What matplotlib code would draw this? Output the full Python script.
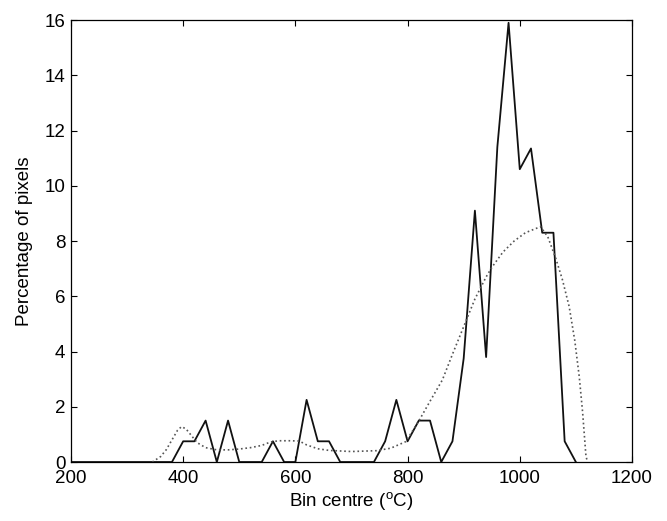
import numpy as np
import matplotlib
matplotlib.use("Agg")
import matplotlib.pyplot as plt

plt.rcParams['font.family'] = ['Liberation Sans', 'DejaVu Sans']
plt.rcParams['mathtext.fontset'] = 'custom'
plt.rcParams['mathtext.rm'] = 'Liberation Sans'

# histogram of bin centres (solid)
bin_centres = np.arange(200, 1101, 20)
hist_pct = [0, 0, 0, 0, 0, 0, 0, 0, 0, 0,
            0.75, 0.75, 1.5, 0, 1.5, 0, 0, 0, 0.75, 0,
            0, 2.25, 0.75, 0.75, 0, 0, 0, 0, 0.75, 2.25,
            0.75, 1.5, 1.5, 0, 0.75, 3.75, 9.1, 3.8, 11.4, 15.9,
            10.6, 11.35, 8.3, 8.3, 0.75, 0]

# smoothed estimate (dotted)
smooth_x = [345, 360, 370, 380, 390, 397, 405, 415, 425, 440, 460, 480, 500,
            520, 540, 555, 570, 590, 607, 620, 640, 660, 700, 744, 770,
            797, 821, 840, 862, 880, 900, 920, 940, 951, 970, 990, 1010,
            1037, 1050, 1064, 1076, 1088, 1098, 1106, 1112, 1118, 1121]
smooth_y = [0, 0.2, 0.45, 0.8, 1.15, 1.28, 1.2, 0.95, 0.7, 0.52, 0.44, 0.44, 0.47,
            0.52, 0.6, 0.72, 0.77, 0.77, 0.76, 0.62, 0.48, 0.42, 0.38, 0.41, 0.5,
            0.74, 1.52, 2.2, 2.97, 3.9, 4.9, 5.9, 6.7, 7.07, 7.6, 8.0, 8.3,
            8.52, 8.15, 7.38, 6.6, 5.63, 4.4, 3.09, 1.8, 0.2, 0]

fig = plt.figure(figsize=(6.67, 5.21), dpi=100)
ax = fig.add_axes([0.1064, 0.1132, 0.8411, 0.8484])

ax.plot(bin_centres, hist_pct, color='#111111', linewidth=1.3, linestyle='-')
ax.plot(smooth_x, smooth_y, color='#555555', linewidth=1.2, linestyle=':')

ax.set_xlim(200, 1200)
ax.set_ylim(0, 16)
ax.set_xticks(np.arange(200, 1201, 200))
ax.set_yticks(np.arange(0, 17, 2))
ax.tick_params(direction='in', top=True, right=True, labelsize=13.5, length=4, width=0.8)
ax.tick_params(axis='x', pad=6)
ax.tick_params(axis='y', pad=4)
for s in ax.spines.values():
    s.set_linewidth(0.9)

ax.set_xlabel('Bin centre ($^{\\mathrm{o}}$C)', fontsize=13.5, labelpad=2)
ax.set_ylabel('Percentage of pixels', fontsize=13.5, labelpad=8)

fig.savefig('out.png', dpi=100)
